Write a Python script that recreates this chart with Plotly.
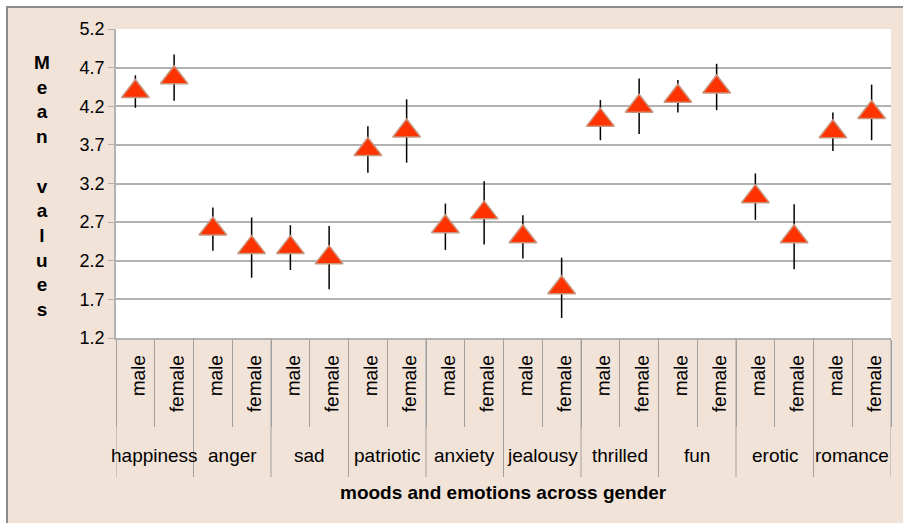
import plotly.graph_objects as go

# mood categories, each with a male and a female mean
moods = ["happiness", "anger", "sad", "patriotic", "anxiety",
         "jealousy", "thrilled", "fun", "erotic", "romance"]
genders = ["male", "female"]

male_means = [4.39, 2.61, 2.37, 3.64, 2.64, 2.51, 4.02, 4.33, 3.03, 3.87]
female_means = [4.57, 2.37, 2.24, 3.88, 2.82, 1.85, 4.20, 4.45, 2.51, 4.12]
male_err = [0.21, 0.28, 0.29, 0.30, 0.30, 0.28, 0.26, 0.21, 0.30, 0.25]
female_err = [0.30, 0.39, 0.41, 0.41, 0.41, 0.39, 0.36, 0.30, 0.42, 0.36]

y_ticks = [1.2, 1.7, 2.2, 2.7, 3.2, 3.7, 4.2, 4.7, 5.2]

# interleave into male/female pairs per mood, one slot per pair member
pos, labels, means, errs = [], [], [], []
for i, mood in enumerate(moods):
    for j, (g, m, e) in enumerate(zip(genders, [male_means[i], female_means[i]],
                                      [male_err[i], female_err[i]])):
        pos.append(i * len(genders) + j)
        labels.append(g)
        means.append(m)
        errs.append(e)

n = len(pos)
gsize = len(genders)
boundaries = [k - 0.5 for k in range(n + 1)]
group_edges = [k * gsize - 0.5 for k in range(len(moods) + 1)]
group_centers = [k * gsize + (gsize - 1) / 2 for k in range(len(moods))]

W, H = 903, 523
L, R, T, B = 116, 12, 29, 185
pw, ph = W - L - R, H - T - B


def px_x(p):
    return (p - L) / pw


def px_y(p):
    return (H - B - p) / ph


BEIGE = "#F2E3D8"
GRID = "#B2B2B2"
SEP = "#A0A0A0"
FONT = "Liberation Sans, Arial, sans-serif"

fig = go.Figure(
    go.Scatter(
        x=pos,
        y=means,
        mode="markers",
        marker=dict(symbol="triangle-up", size=24, color="#FF3300",
                    line=dict(color="#C8957E", width=1.5)),
        error_y=dict(type="data", array=errs, color="black",
                     thickness=1.5, width=0),
        showlegend=False,
    )
)

shapes = [
    dict(type="rect", xref="paper", yref="paper", layer="below",
         x0=px_x(7), x1=px_x(W + 10), y0=px_y(H + 10), y1=px_y(7),
         fillcolor=BEIGE, line=dict(color="#8C8C8C", width=2)),
    dict(type="rect", xref="paper", yref="paper", layer="below",
         x0=0, x1=1, y0=0, y1=1, fillcolor="white", line_width=0),
]
# long separators between mood groups
for xe in group_edges:
    shapes.append(dict(type="line", xref="x", yref="paper",
                       x0=xe, x1=xe, y0=0, y1=px_y(477),
                       line=dict(color=SEP, width=1)))

annotations = [
    dict(text="<b>M<br>e<br>a<br>n<br>&nbsp;<br>v<br>a<br>l<br>u<br>e<br>s</b>",
         xref="paper", yref="paper", x=px_x(42), y=px_y(186),
         xanchor="center", yanchor="middle",
         showarrow=False, font=dict(size=19, family=FONT), align="center"),
    dict(text="<b>moods and emotions across gender</b>",
         xref="paper", yref="paper", x=px_x(503), y=px_y(492),
         xanchor="center", yanchor="middle",
         showarrow=False, font=dict(size=19, family=FONT)),
]
for mood, xc in zip(moods, group_centers):
    annotations.append(dict(text=mood, xref="x", yref="paper", x=xc,
                            y=px_y(455), xanchor="center", yanchor="middle",
                            showarrow=False, font=dict(size=19, family=FONT)))

fig.update_layout(
    width=W,
    height=H,
    margin=dict(l=L, r=R, t=T, b=B),
    paper_bgcolor="white",
    plot_bgcolor="white",
    font=dict(family=FONT, color="black"),
    shapes=shapes,
    annotations=annotations,
)

fig.update_yaxes(
    range=[1.2, 5.2],
    tickvals=y_ticks,
    tickformat=".1f",
    showgrid=True,
    gridcolor=GRID,
    gridwidth=1.5,
    showline=True,
    linecolor=GRID,
    linewidth=1.5,
    ticks="outside",
    ticklen=6,
    tickcolor=GRID,
    tickfont=dict(size=18),
    zeroline=False,
    automargin=False,
)

fig.update_xaxes(
    range=[boundaries[0], boundaries[-1]],
    tickvals=pos,
    ticktext=labels,
    ticks="",
    # just off vertical so the labels hang from their end, like the original
    tickangle=-89.5,
    tickfont=dict(size=19),
    ticklabelstandoff=2,
    minor=dict(tickvals=boundaries, ticks="outside", ticklen=87,
               tickcolor=SEP, tickwidth=1),
    showline=True,
    linecolor=GRID,
    linewidth=1.5,
    showgrid=False,
    zeroline=False,
    automargin=False,
)

# drop the default page margin so the figure sits at the window origin
fig.write_html("out.html", config={"displayModeBar": False},
               post_script="document.body.style.margin='0';")
